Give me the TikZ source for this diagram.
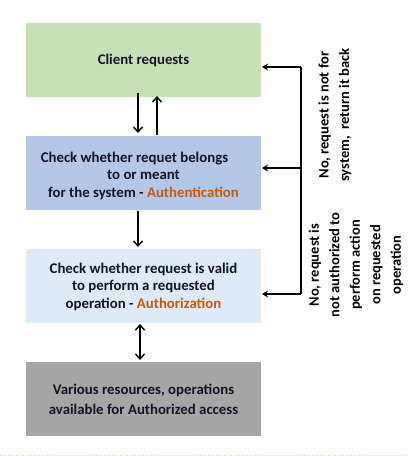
\documentclass[tikz,border=0pt]{standalone}
\usepackage{fontspec}
\setmainfont{Carlito}
\usetikzlibrary{arrows.meta}
\definecolor{txt}{HTML}{141428}
\definecolor{hl}{HTML}{C55A11}
\definecolor{cgreen}{HTML}{C9E0B4}
\definecolor{cblue}{HTML}{B4C7E7}
\definecolor{clight}{HTML}{DEEBF7}
\definecolor{cgray}{HTML}{A6A6A6}
\tikzset{
  box/.style={minimum width=235pt, minimum height=74pt, inner sep=0pt, align=center,
    font=\fontsize{14.8}{17.5}\selectfont\bfseries, text=txt},
  vline/.style={line width=1.6pt, draw=black, -{Straight Barb[length=5pt,width=9pt,line width=1.4pt]}},
  sline/.style={line width=1.6pt, draw=black, -{Stealth[length=6pt,width=7pt]}},
  rtext/.style={rotate=90, align=center, font=\fontsize{14.5}{20.5}\selectfont\bfseries, text=black},
}
\begin{document}
\begin{tikzpicture}[x=1pt,y=-1pt]
\useasboundingbox (0,0) rectangle (408,456);
\node[box, fill=cgreen] (client) at (143.5,60) {Client requests};
\node[box, fill=cblue] (authn) at (143.5,173) {};
\node[box, anchor=center] (authntext) at (143.5,175.5) {Check whether requet belongs\hspace*{18pt}\\to or meant\\for the system - \textcolor{hl}{Authentication}};
\node[box, fill=clight] (authz) at (143.5,285.5) {};
\node[box] (authztext) at (143.5,286.5) {Check whether request is valid\\to perform a requested\\operation - \textcolor{hl}{Authorization}};
\node[box, fill=cgray, font=\fontsize{14.8}{20}\selectfont\bfseries] (res) at (143.5,399) {Various resources, operations\\available for Authorized access};
% vertical arrows
\draw[vline] (138,93) -- (138,133);
\draw[vline] (157,135) -- (157,96);
\draw[vline] (138,211) -- (138,247);
\draw[line width=1.6pt, {Straight Barb[length=5pt,width=9pt,line width=1.4pt]}-{Straight Barb[length=5pt,width=9pt,line width=1.4pt]}] (140,324) -- (140,360);
% right feedback
\coordinate (top) at (301,67);
\coordinate (mid) at (301,168);
\coordinate (bot) at (301,294);
\draw[line width=1.6pt] (top) -- (bot);
\draw[sline] (top) -- (262,67);
\draw[sline] (mid) -- (262,168);
\draw[sline] (bot) -- (262,294);
\node[rtext] (t1) at (335,115) {No, request is not for\\system,\ \ return it back};
\node[rtext] (t2) at (356,265) {No, request is\\not authorized to\\perform action\\on requested\\operation};
% faint bottom rule
\coordinate (bl) at (0,455);
\coordinate (br) at (408,455);
\draw[cgreen, dotted, line width=0.6pt] (bl) -- (br);
\end{tikzpicture}
\end{document}
